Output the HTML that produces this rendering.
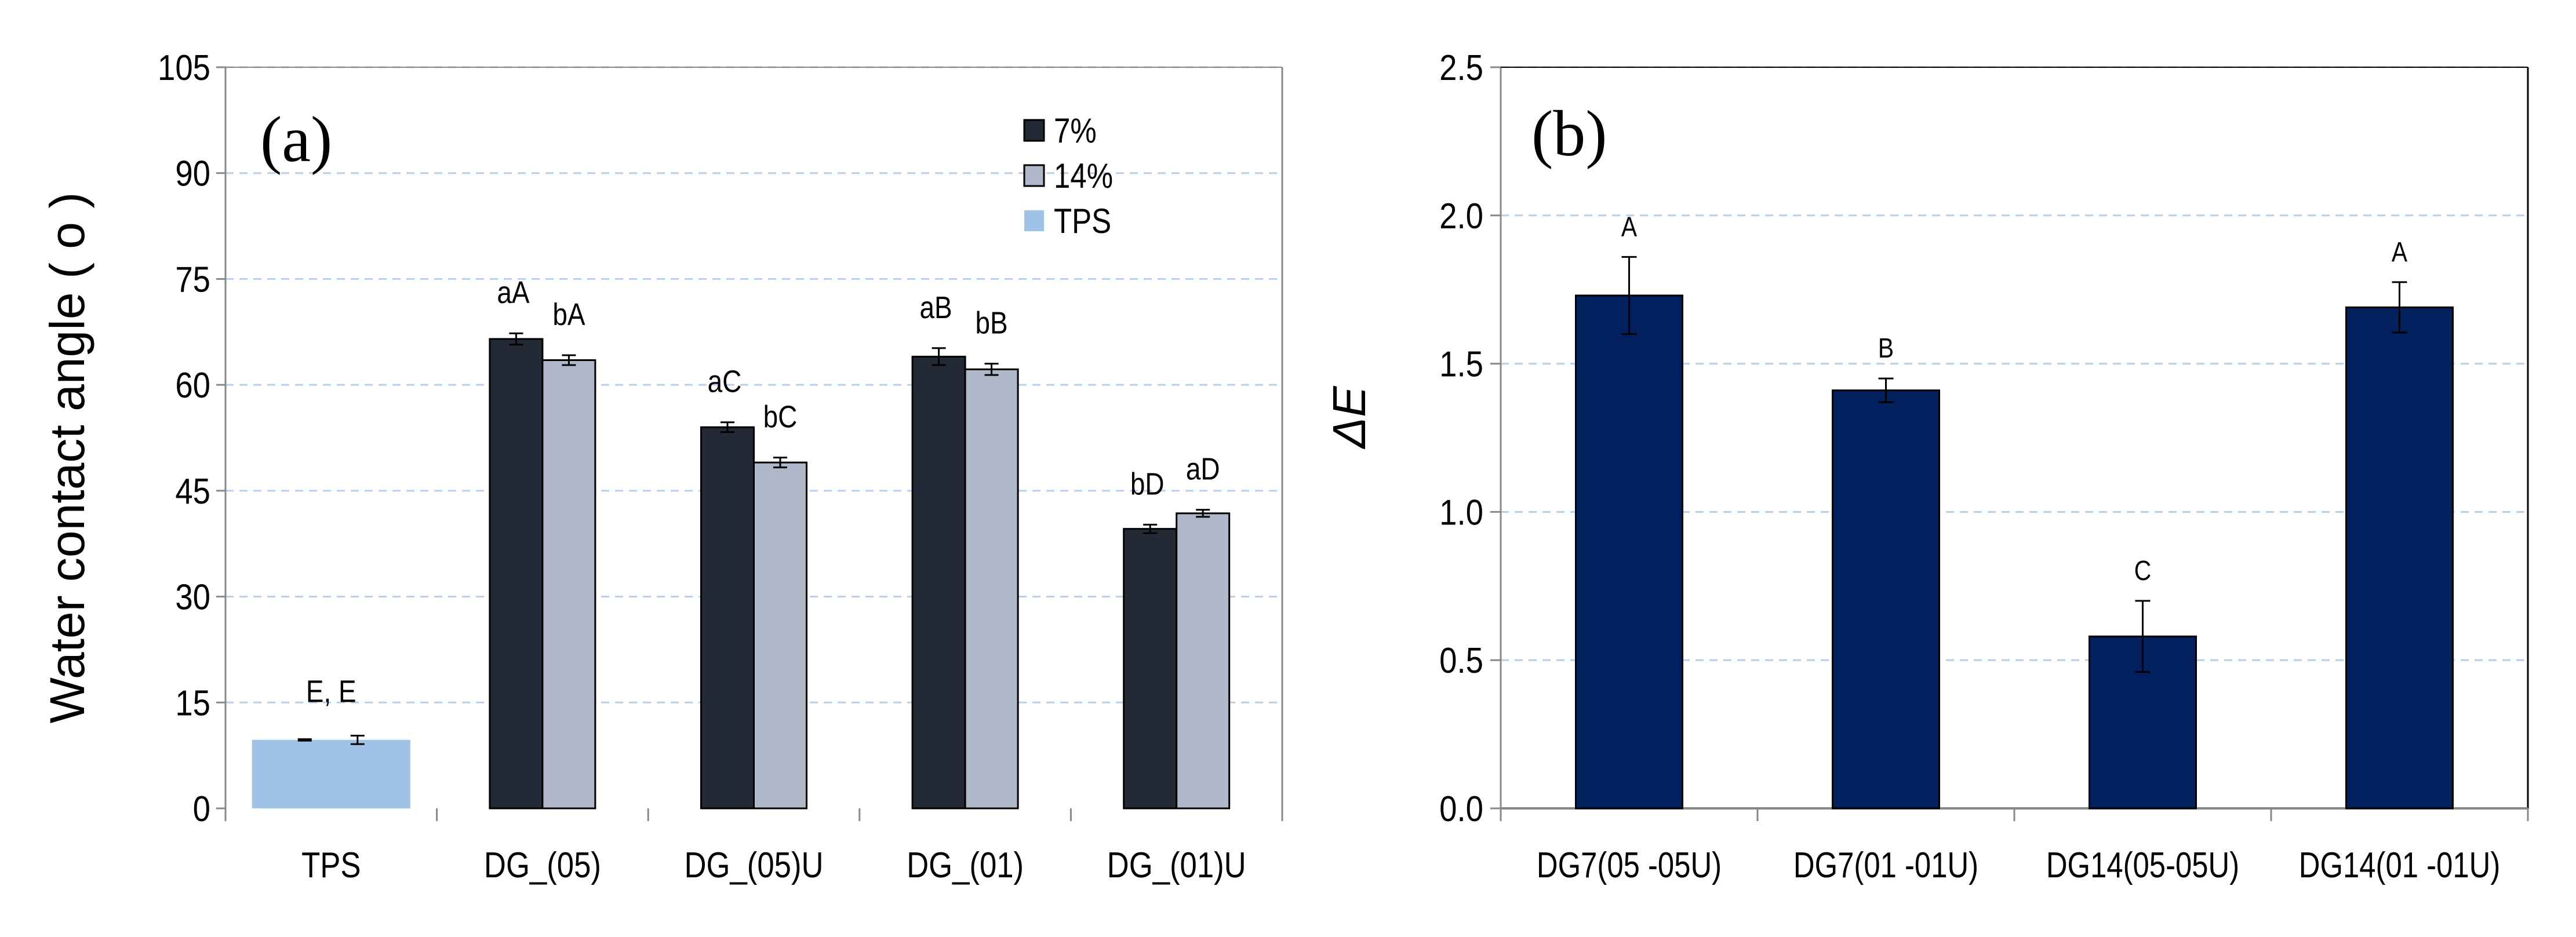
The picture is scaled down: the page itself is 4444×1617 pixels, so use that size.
<!DOCTYPE html>
<html><head><meta charset="utf-8"><style>
html,body{margin:0;padding:0;background:#fff;}
svg{display:block;}
text{font-family:"Liberation Sans",sans-serif;fill:#000;}
</style></head><body>
<svg id="chart" width="4444" height="1617" viewBox="0 0 4444 1617" xmlns="http://www.w3.org/2000/svg">
<g id="pa"></g>
<g id="pb"></g>
</svg>
<script>
// Panel (a) data
const catsA = ["TPS","DG_(05)","DG_(05)U","DG_(01)","DG_(01)U"];
const vals7 = [9.7, 66.5, 54.0, 64.0, 39.6];
const err7 = [0.1, 0.8, 0.7, 1.2, 0.6];
const vals14 = [9.7, 63.5, 49.0, 62.2, 41.8];
const err14 = [0.6, 0.7, 0.7, 0.8, 0.5];
const lab7 = ["", "aA", "aC", "aB", "bD"];
const lab14 = ["", "bA", "bC", "bB", "aD"];
const ticksA = [0,15,30,45,60,75,90,105];
// Panel (b) data
const catsB = ["DG7(05 -05U)","DG7(01 -01U)","DG14(05-05U)","DG14(01 -01U)"];
const valsB = [1.73, 1.41, 0.58, 1.69];
const errB = [0.13, 0.04, 0.12, 0.085];
const labB = ["A","B","C","A"];
const ticksB = [0.0,0.5,1.0,1.5,2.0,2.5];

const NS="http://www.w3.org/2000/svg";
function mk(parent, tag, attrs, txt){
  const e=document.createElementNS(NS,tag);
  for(const k in attrs) e.setAttribute(k,attrs[k]);
  if(txt!==undefined) e.textContent=txt;
  parent.appendChild(e); return e;
}
// condensed text at (x,y)
function ctext(parent,x,y,anchor,size,sx,txt){
  return mk(parent,'text',{x:0,y:0,'text-anchor':anchor,'font-size':size,transform:`translate(${x},${y}) scale(${sx},1)`},txt);
}
function errbar(g,x,y1,y2,w){
  mk(g,'line',{x1:x,x2:x,y1:y1,y2:y2,stroke:'#000','stroke-width':3});
  mk(g,'line',{x1:x-w,x2:x+w,y1:y1,y2:y1,stroke:'#000','stroke-width':3});
  mk(g,'line',{x1:x-w,x2:x+w,y1:y2,y2:y2,stroke:'#000','stroke-width':3});
}

// ---------- Panel A ----------
(function(){
  const g=document.getElementById('pa');
  const L=389,R=2212,T=116,B=1395,max=105;
  const y=v=>B-(v/max)*(B-T);
  const cw=(R-L)/catsA.length;
  const bw=91;
  ticksA.forEach(t=>{
    if(t>0){ const gl=mk(g,'line',{x1:L,x2:R,y1:y(t),y2:y(t),stroke:'#b7d0ee','stroke-width':3,'stroke-dasharray':'14 10'});
        }
    mk(g,'line',{x1:L-16,x2:L,y1:y(t),y2:y(t),stroke:'#888','stroke-width':3});
    const tl=ctext(g,L-26,y(t)+22,'end',62,0.88,String(t));
     
  });
  mk(g,'line',{x1:L,x2:L,y1:T,y2:B+20,stroke:'#888','stroke-width':3});
  mk(g,'line',{x1:R,x2:R,y1:T,y2:B,stroke:'#888','stroke-width':3});
  mk(g,'line',{x1:L,x2:R,y1:T,y2:T,stroke:'#888','stroke-width':2});
  for(let i=0;i<=catsA.length;i++){
    mk(g,'line',{x1:L+i*cw,x2:L+i*cw,y1:B,y2:B+22,stroke:'#888','stroke-width':3});
  }
  catsA.forEach((c,i)=>{
    const cx=L+cw*(i+0.5);
    if(i===0){
      const b=mk(g,'rect',{x:cx-1.5*bw,y:y(vals7[i]),width:3*bw,height:B-y(vals7[i]),fill:'#9fc3e6'});
       
      errbar(g,cx-bw/2,y(vals7[i]+err7[i]),y(vals7[i]-err7[i]),12);
      errbar(g,cx+bw/2,y(vals14[i]+err14[i]),y(vals14[i]-err14[i]),12);
      const t=ctext(g,cx,y(vals14[i]+err14[i])-58,'middle',54,0.85,'E,  E');
       
    } else {
      const b1=mk(g,'rect',{x:cx-bw,y:y(vals7[i]),width:bw,height:B-y(vals7[i]),fill:'#232a36',stroke:'#000','stroke-width':3});
       
      const b2=mk(g,'rect',{x:cx,y:y(vals14[i]),width:bw,height:B-y(vals14[i]),fill:'#aeb8c9',stroke:'#000','stroke-width':3});
       
      errbar(g,cx-bw/2,y(vals7[i]+err7[i]),y(vals7[i]-err7[i]),12);
      errbar(g,cx+bw/2,y(vals14[i]+err14[i]),y(vals14[i]-err14[i]),12);
      const t1=ctext(g,cx-bw/2-5,y(vals7[i]+err7[i])-52,'middle',54,0.85,lab7[i]);
       
      const t2=ctext(g,cx+bw/2,y(vals14[i]+err14[i])-52,'middle',54,0.85,lab14[i]);
       
    }
    const xl=ctext(g,cx,1514,'middle',62,0.85,c);
     
  });
  const yt=mk(g,'text',{x:0,y:0,'text-anchor':'middle','font-size':84,transform:'translate(145,790) rotate(-90)'},'Water contact angle ( o )');
   
  const pl=mk(g,'text',{x:449,y:278,'font-size':112,style:'font-family:"Liberation Serif",serif'},'(a)');
   
  const leg=[["7%","#232a36",true],["14%","#aeb8c9",true],["TPS","#9fc3e6",false]];
  leg.forEach((l,i)=>{
    const cy=225+i*78;
    const lg=mk(g,'g',{});
     
    const a={x:1767,y:cy-18,width:34,height:36,fill:l[1]};
    if(l[2]){a.stroke='#000';a['stroke-width']=3;}
    mk(lg,'rect',a);
    ctext(lg,1818,cy+21,'start',60,0.85,l[0]);
  });
})();

// ---------- Panel B ----------
(function(){
  const g=document.getElementById('pb');
  const L=2589,R=4361,T=116,B=1395,max=2.5;
  const y=v=>B-(v/max)*(B-T);
  const cw=(R-L)/catsB.length;
  const bw=184;
  ticksB.forEach(t=>{
    if(t>0){ const gl=mk(g,'line',{x1:L,x2:R,y1:y(t),y2:y(t),stroke:'#b7d0ee','stroke-width':3,'stroke-dasharray':'14 10'});
        }
    mk(g,'line',{x1:L-18,x2:L,y1:y(t),y2:y(t),stroke:'#888','stroke-width':3});
    const tl=ctext(g,L-30,y(t)+22,'end',62,0.88,t.toFixed(1));
     
  });
  mk(g,'line',{x1:L,x2:L,y1:T,y2:B+22,stroke:'#888','stroke-width':3});
  mk(g,'line',{x1:R,x2:R,y1:T,y2:B,stroke:'#000','stroke-width':3});
  mk(g,'line',{x1:L,x2:R,y1:T,y2:T,stroke:'#000','stroke-width':2});
  mk(g,'line',{x1:L,x2:R,y1:B,y2:B,stroke:'#888','stroke-width':4});
  for(let i=0;i<=catsB.length;i++){
    mk(g,'line',{x1:L+i*cw,x2:L+i*cw,y1:B,y2:B+22,stroke:'#888','stroke-width':3});
  }
  catsB.forEach((c,i)=>{
    const cx=L+cw*(i+0.5);
    const b=mk(g,'rect',{x:cx-bw/2,y:y(valsB[i]),width:bw,height:B-y(valsB[i]),fill:'#02205e',stroke:'#000','stroke-width':3});
     
    errbar(g,cx,y(valsB[i]+errB[i]),y(valsB[i]-errB[i]),13);
    const t=ctext(g,cx,y(valsB[i]+errB[i])-36,'middle',48,0.85,labB[i]);
     
    const xl=ctext(g,cx,1514,'middle',62,0.82,c);
     
  });
  const yt=mk(g,'text',{x:0,y:0,'text-anchor':'middle','font-size':80,'font-style':'italic',transform:'translate(2355,720) rotate(-90)'},'ΔE');
   
  const pl=mk(g,'text',{x:2642,y:268,'font-size':112,style:'font-family:"Liberation Serif",serif'},'(b)');
   
})();
</script>
</body></html>
